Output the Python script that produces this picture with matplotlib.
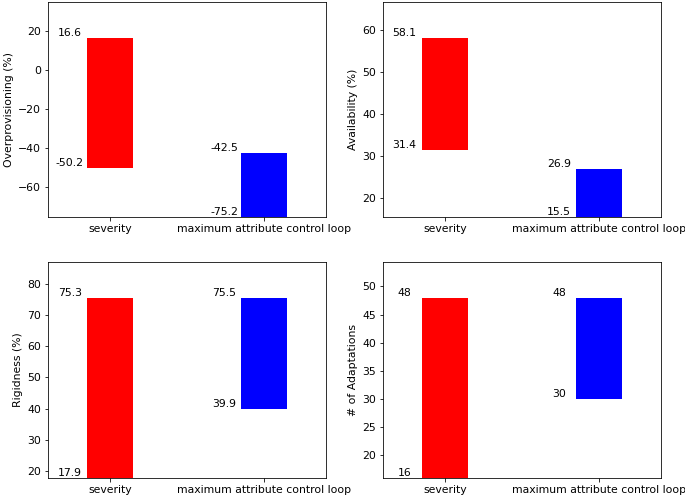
import matplotlib
matplotlib.use("Agg")
import matplotlib.pyplot as plt

plt.rcParams["font.size"] = 10.9

categories = ["severity", "maximum attribute control loop"]
colors = ["red", "blue"]

# (low, high) per category for each metric
overprov_low = [-50.2, -75.2]
overprov_high = [16.6, -42.5]
avail_low = [31.4, 15.5]
avail_high = [58.1, 26.9]
rigid_low = [17.9, 39.9]
rigid_high = [75.3, 75.5]
adapt_low = [16, 30]
adapt_high = [48, 48]

panels = [
    ("Overprovisioning (%)", overprov_low, overprov_high, "{:.1f}"),
    ("Availability (%)", avail_low, avail_high, "{:.1f}"),
    ("Rigidness (%)", rigid_low, rigid_high, "{:.1f}"),
    ("# of Adaptations", adapt_low, adapt_high, "{:d}"),
]

fig = plt.figure(figsize=(685 / 72, 497 / 72), dpi=72)
rects = [
    [0.0701, 0.5634, 0.4058, 0.4326],
    [0.5591, 0.5634, 0.4058, 0.4326],
    [0.0701, 0.0388, 0.4058, 0.4346],
    [0.5591, 0.0388, 0.4058, 0.4346],
]

for rect, (ylabel, low, high, fmt) in zip(rects, panels):
    ax = fig.add_axes(rect)
    x = list(range(len(categories)))
    heights = [h - l for l, h in zip(low, high)]
    ax.bar(x, heights, bottom=low, width=0.3, color=colors)
    for i in x:
        ax.text(i - 0.26, high[i], fmt.format(high[i]), ha="center", va="bottom")
        ax.text(i - 0.26, low[i], fmt.format(low[i]), ha="center", va="bottom")
    lo = min(low)
    hi = max(high)
    ax.set_ylim(lo, hi + 0.2 * (hi - lo))
    ax.set_xlim(-0.4, 1.4)
    ax.set_xticks(x)
    ax.set_xticklabels(categories)
    ax.set_ylabel(ylabel)

fig.savefig("out.png", dpi=72)
